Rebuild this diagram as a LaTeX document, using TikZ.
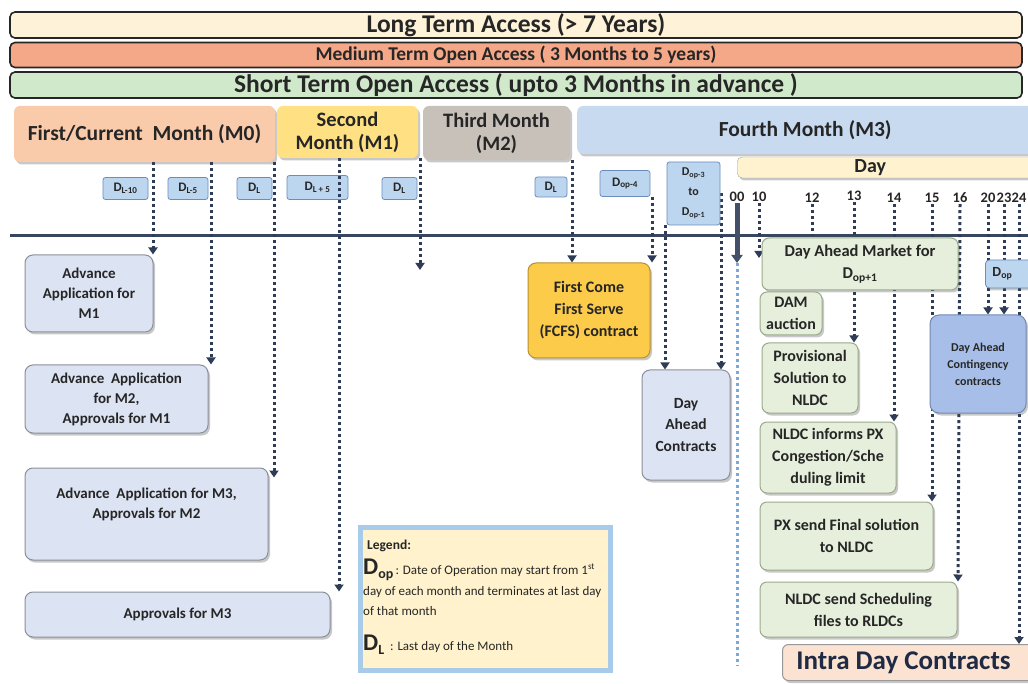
\documentclass[tikz,border=0pt]{standalone}
\usepackage{fontspec}
\setmainfont{Carlito}
\usetikzlibrary{arrows.meta,shadows}
\pgfdeclarelayer{background}
\pgfsetlayers{background,main}
\newcommand\fsz[2]{\fontsize{#1}{#2}\selectfont}
\definecolor{navy}{HTML}{2F3C57}
\definecolor{txt}{HTML}{262626}
\definecolor{ltafill}{HTML}{FEF3D8}
\definecolor{mtoafill}{HTML}{F4A888}
\definecolor{stoafill}{HTML}{D0E9CB}
\definecolor{m0fill}{HTML}{F9CBAA}
\definecolor{m1fill}{HTML}{FFE184}
\definecolor{m2fill}{HTML}{C8C1BA}
\definecolor{m3fill}{HTML}{C8DAF0}
\definecolor{dayfill}{HTML}{FEF2CF}
\definecolor{dfill}{HTML}{BDD6EF}
\definecolor{dborder}{HTML}{6A8DBB}
\definecolor{afill}{HTML}{DCE3F2}
\definecolor{aborder}{HTML}{8A8F99}
\definecolor{fcfsfill}{HTML}{FCCB4A}
\definecolor{fcfsborder}{HTML}{B8912E}
\definecolor{gfill}{HTML}{E6EFDC}
\definecolor{gborder}{HTML}{9AAA8A}
\definecolor{cfill}{HTML}{A7BFE8}
\definecolor{cborder}{HTML}{7089B3}
\definecolor{intrafill}{HTML}{FCE2D0}
\definecolor{legfill}{HTML}{FFF2CC}
\definecolor{legglow}{HTML}{A9CBEA}
\definecolor{bluedot}{HTML}{7EA6D8}
\definecolor{intratxt}{HTML}{1F2A44}
\begin{document}
\begin{tikzpicture}[x=1pt,y=-1pt,
  shadowed/.style={drop shadow={opacity=0.3, shadow xshift=2pt, shadow yshift=-2.5pt, fill=black!70}},
  bar/.style={draw=black!85, line width=1.6pt, rounded corners=5pt, minimum height=26pt, inner sep=0pt, text=txt},
  mhead/.style={rounded corners=6pt, inner sep=0pt, font=\fsz{21.5}{24}\bfseries, text=txt, align=center, shadowed},
  dbox/.style={draw=dborder, fill=dfill, line width=0.8pt, rounded corners=2.5pt, inner sep=0pt, font=\fsz{13}{14}\bfseries, text=txt, align=center},
  hour/.style={font=\fsz{14.5}{16}\bfseries, text=txt, inner sep=0pt, minimum height=12pt},
  abox/.style={draw=aborder, fill=afill, line width=1pt, rounded corners=8pt, inner sep=2pt, align=center, font=\fsz{15}{20}\bfseries, text=txt, shadowed},
  gbox/.style={draw=gborder, fill=gfill, line width=1pt, rounded corners=7pt, inner sep=2pt, align=center, font=\fsz{16}{22}\bfseries, text=txt, shadowed},
  dl/.style={draw=navy, line width=3pt, dash pattern=on 3pt off 3pt, -{Triangle[width=9pt,length=7pt]}},
  stub/.style={draw=navy, line width=3pt, dash pattern=on 3pt off 3pt},
  bluedl/.style={draw=bluedot, line width=3pt, dash pattern=on 3pt off 3pt},
  thickbar/.style={draw=navy!90, line width=5pt, -{Triangle[width=11pt,length=8pt]}},
  timeline/.style={draw=navy!95, line width=3pt},
  legtxt/.style={anchor=base west, inner sep=0pt, font=\fsz{13}{15}, text=txt}
]
\useasboundingbox (0,0) rectangle (1028,684);

% ---------- top bars ----------
\node[bar, fill=ltafill, minimum width=1012pt, font=\fsz{25.5}{27}\bfseries] (lta) at (516,25) {Long Term Access (> 7 Years)};
\node[bar, fill=mtoafill, minimum width=1012pt, minimum height=25pt, font=\fsz{19.5}{21}\bfseries] (mtoa) at (516,55) {Medium Term Open Access ( 3 Months to 5 years)};
\node[bar, fill=stoafill, minimum width=1012pt, font=\fsz{25.5}{27}\bfseries] (stoa) at (516,85) {Short Term Open Access ( upto 3 Months in advance )};

% ---------- month headers ----------
\node[mhead, fill=m0fill, minimum width=261pt, minimum height=56pt] (m0) at (144.5,134) {First/Current\ \ Month (M0)};
\node[mhead, fill=m1fill, minimum width=141pt, minimum height=52pt, font=\fsz{20.5}{23}\bfseries] (m1) at (347.5,132) {Second\\Month (M1)};
\node[mhead, fill=m2fill, minimum width=147pt, minimum height=54pt, font=\fsz{20.5}{23}\bfseries] (m2) at (496.5,133) {Third Month\\(M2)};
\node[mhead, fill=m3fill, minimum width=470pt, minimum height=48pt, anchor=west,
      label={[font=\fsz{21.5}{24}\bfseries, text=txt, xshift=-7pt]center:Fourth Month (M3)}] (m3) at (577,130) {};
\node[draw=black!35, fill=dayfill, rounded corners=5pt, minimum width=320pt, minimum height=21pt, anchor=west, shadowed,
      label={[font=\fsz{20}{22}\bfseries, text=txt, xshift=-27pt]center:Day}] (day) at (737,167.5) {};

% ---------- D labels ----------
\node[dbox, minimum width=45pt, minimum height=22pt] (dl10) at (125.5,188.5) {D\textsubscript{L-10}};
\node[dbox, minimum width=40pt, minimum height=22pt] (dl5) at (188,188.5) {D\textsubscript{L-5}};
\node[dbox, minimum width=35pt, minimum height=22pt] (dlz) at (254.5,188.5) {D\textsubscript{L}};
\node[dbox, minimum width=61pt, minimum height=24pt] (dlp5) at (317.5,187.5) {D\textsubscript{L + 5}};
\node[dbox, minimum width=35pt, minimum height=22pt] (dla) at (399.5,188.5) {D\textsubscript{L}};
\node[dbox, minimum width=32pt, minimum height=20pt] (dlb) at (551,187) {D\textsubscript{L}};
\node[dbox, minimum width=50pt, minimum height=26pt] (dop4) at (625,183.5) {D\textsubscript{op-4}};
\node[dbox, minimum width=53pt, minimum height=63pt, font=\fsz{12}{20}\bfseries] (dop31) at (693.5,193.5) {D\textsubscript{op-3}\\to\\D\textsubscript{op-1}};

% ---------- hours ----------
\node[hour] (h00) at (737,197) {00};
\node[hour] (h10) at (759,197) {10};
\node[hour] (h12) at (812,198) {12};
\node[hour] (h13) at (854,196) {13};
\node[hour] (h14) at (894,198) {14};
\node[hour] (h15) at (932,198) {15};
\node[hour] (h16) at (960,198) {16};
\node[hour] (h20) at (988,198) {20};
\node[hour] (h23) at (1004,198) {23};
\node[hour] (h24) at (1019,198) {24};

% ---------- left boxes ----------
\node[abox, minimum width=128pt, minimum height=77pt] (app1) at (89,293.5) {Advance\\Application for\\M1};
\node[abox, minimum width=183pt, minimum height=68pt] (app2) at (116.5,399) {Advance\ \ Application\\for M2,\\Approvals for M1};
\node[abox, minimum width=243pt, minimum height=92pt,
      label={[font=\fsz{15}{20}\bfseries, text=txt, align=center, yshift=10pt]center:Advance\ \ Application for M3,\\Approvals for M2}] (app3) at (146.5,514) {};
\node[abox, minimum width=305pt, minimum height=45pt] (app4) at (177.5,614.5) {Approvals for M3};

% ---------- middle boxes ----------
\node[draw=fcfsborder, fill=fcfsfill, line width=1pt, rounded corners=8pt, align=center, font=\fsz{16}{22}\bfseries, text=txt, shadowed,
      minimum width=122pt, minimum height=95pt] (fcfs) at (589,310.5) {First Come\\First Serve\\(FCFS) contract};
\node[abox, minimum width=88pt, minimum height=110pt, font=\fsz{15.5}{21.5}\bfseries] (dac) at (686,425) {Day\\Ahead\\Contracts};

% ---------- day-ahead market boxes ----------
\node[gbox, minimum width=196pt, minimum height=52pt, font=\fsz{16.5}{22}\bfseries] (dam) at (860,264) {Day Ahead Market for\\D\textsubscript{op+1}};
\node[gbox, minimum width=62pt, minimum height=43pt] (dama) at (791,313.5) {DAM\\auction};
\node[gbox, minimum width=96pt, minimum height=70pt] (prov) at (810,378) {Provisional\\Solution to\\NLDC};
\node[gbox, minimum width=136pt, minimum height=71pt] (nlinf) at (828,457.5) {NLDC informs PX\\Congestion/Sche\\duling limit};
\node[gbox, minimum width=173pt, minimum height=68pt] (pxs) at (846.5,536) {PX send Final solution\\to NLDC};
\node[gbox, minimum width=197pt, minimum height=55pt] (nlsend) at (858.5,609.5) {NLDC send Scheduling\\files to RLDCs};

\node[draw=cborder, fill=cfill, line width=1pt, rounded corners=9pt, align=center, font=\fsz{12}{17}\bfseries, text=txt, shadowed,
      minimum width=96pt, minimum height=98pt] (cont) at (978,364) {Day Ahead\\Contingency\\contracts};
\node[draw=dborder, fill=dfill, line width=0.8pt, rounded corners=4pt, minimum width=70pt, minimum height=28pt, anchor=west, shadowed,
      label={[font=\fsz{14}{15}\bfseries, text=txt, xshift=-18pt]center:D\textsubscript{op}}] (dop) at (985,274) {};

\node[draw=black!40, fill=intrafill, line width=1pt, rounded corners=6pt, minimum width=270pt, minimum height=36pt, anchor=west, shadowed,
      label={[font=\fsz{27}{29}\bfseries, text=intratxt, xshift=-14pt]center:Intra Day Contracts}] (intra) at (782,662.5) {};

% ---------- legend ----------
\node[draw=legglow, line width=5pt, fill=legfill, minimum width=250pt, minimum height=143pt, shadowed] (leg) at (485,598.5) {};
\node[anchor=west, inner sep=0pt, font=\fsz{13.5}{15}\bfseries, text=txt] (legt) at (367,546) {Legend:};
\node[legtxt] (leg1) at (363,574) {{\fsz{24}{25}\bfseries D}{\fsz{14}{15}\bfseries\raisebox{-4pt}{op}}\,: Date of Operation may start from 1\textsuperscript{st}};
\node[legtxt] (leg2) at (363,595) {day of each month and terminates at last day};
\node[legtxt] (leg3) at (363,615) {of that month};
\node[legtxt] (leg4) at (363,650) {{\fsz{24}{25}\bfseries D}{\fsz{14}{15}\bfseries\raisebox{-4pt}{L}}\ \ : Last day of the Month};

% ---------- connectors on top ----------
\draw[dl] (339,0 |- m1.south) -- (339,0 |- app4.north);

% ---------- background connectors ----------
\begin{pgfonlayer}{background}
\fill[white] (0,0) rectangle (1028,684);
\coordinate (tl) at (10,236);
\coordinate (tr) at (1028,236);
\draw[timeline] (tl) -- (tr);
\coordinate (c420) at (420,270);
\coordinate (c00) at (737,263);
\coordinate (c00b) at (737,666);
\coordinate (c10) at (759,258);
\coordinate (c12) at (812,236);
\draw[dl] (153,0 |- m0.south) -- (153,0 |- app1.north);
\draw[dl] (211,0 |- m0.south) -- (211,0 |- app2.north);
\draw[dl, shorten >=-10pt] (274,0 |- m0.south) -- (274,0 |- app3.north);
\draw[dl] (420,0 |- m1.south) -- (c420);
\draw[dl] (572,0 |- m2.south) -- (572,0 |- fcfs.north);
\draw[dl] (652,0 |- dop4.south) -- (652,0 |- fcfs.north);
\draw[dl] (665,0 |- dop31.south) -- (665,0 |- dac.north);
\draw[dl] (721,0 |- dop31.center) -- (721,0 |- dac.north);
\draw[bluedl] (c00) -- (c00b);
\draw[thickbar] (h00.south) -- (c00);
\draw[dl] (h10.south) -- (c10);
\draw[stub] (h12.south) -- (c12);
\draw[dl] (h13.south) -- (h13.south |- prov.north);
\draw[dl] (h14.south) -- (h14.south |- nlinf.north);
\draw[dl] (h15.south) -- (h15.south |- pxs.north);
\draw[dl] (h16.south) -- (958,0 |- nlsend.north);
\draw[dl] (h20.south) -- (h20.south |- cont.north);
\draw[dl] (h23.south) -- (h23.south |- cont.north);
\draw[dl] (h24.south) -- (h24.south |- intra.north);
\end{pgfonlayer}
\end{tikzpicture}
\end{document}
